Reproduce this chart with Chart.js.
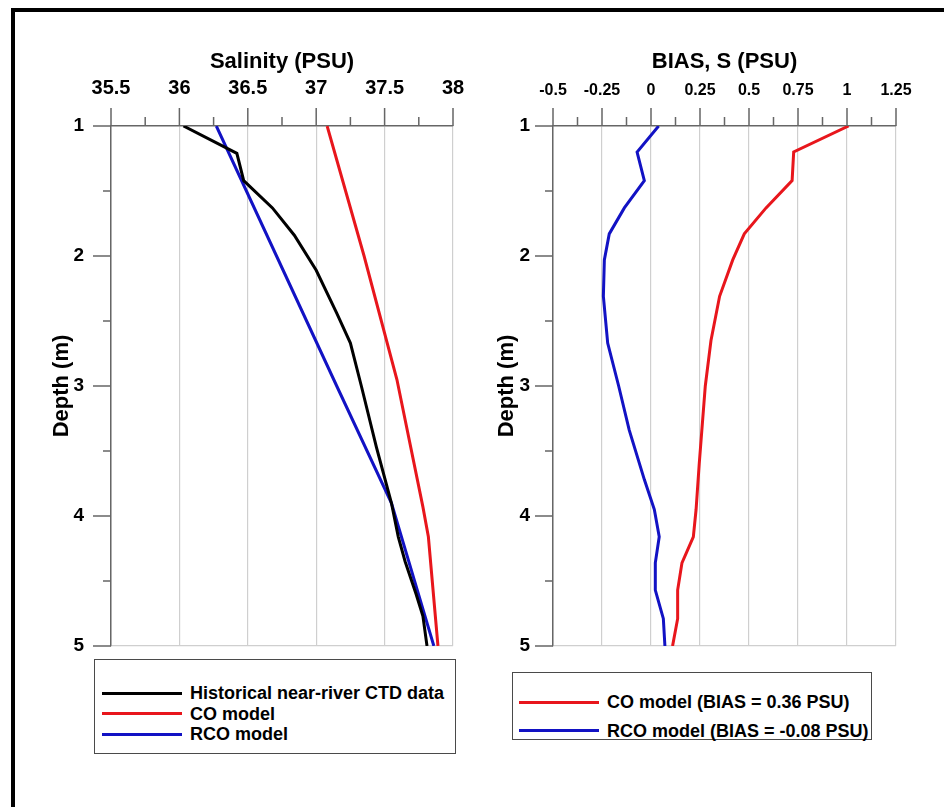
<!DOCTYPE html>
<html>
<head>
<meta charset="utf-8">
<script src="https://cdn.jsdelivr.net/npm/chart.js@4/dist/chart.umd.min.js"></script>
<style>
  html, body { margin: 0; padding: 0; background: #fff; overflow: hidden; }
  body { width: 944px; height: 807px; position: relative; font-family: 'Liberation Sans', Arial, sans-serif; }
  #frame { position: absolute; left: 11px; top: 8px; width: 1000px; height: 900px; border: 4px solid #000; }
  canvas { position: absolute; top: 0; }
  #salChart { left: 0; }
  #biasChart { left: 472px; }
  .legend { position: absolute; border: 1.5px solid #4a4a4a; background: #fff; }
  .legend .row { position: absolute; left: 0; right: 0; height: 0; }
  .legend .swatch { position: absolute; width: 80px; height: 3px; top: -1.5px; }
  .legend .txt { position: absolute; top: -11px; font-weight: bold; font-size: 18px; line-height: 22px; color: #000; white-space: nowrap; }
  #salLegend { left: 94px; top: 659px; width: 360px; height: 93px; }
  #biasLegend { left: 512px; top: 672px; width: 358px; height: 66px; }
</style>
</head>
<body>
<div id="frame"></div>
<canvas id="salChart" width="472" height="660"></canvas>
<canvas id="biasChart" width="472" height="660"></canvas>
<div id="salLegend" class="legend"></div>
<div id="biasLegend" class="legend"></div>
<script>
// ---- axis ticks ----
const salTicks = [35.5, 36, 36.5, 37, 37.5, 38];
const salMinor = [35.75, 36.25, 36.75, 37.25, 37.75];
const biasTicks = [-0.5, -0.25, 0, 0.25, 0.5, 0.75, 1, 1.25];
const biasMinor = [-0.375, -0.125, 0.125, 0.375, 0.625, 0.875, 1.125];
const depthTicks = [1, 2, 3, 4, 5];
const depthMinor = [1.5, 2.5, 3.5, 4.5];

// ---- salinity profiles (left) ----
const depthObs = [1, 1.21, 1.42, 1.63, 1.84, 2.11, 2.44, 2.67, 3.0, 3.47, 3.9, 4.16, 4.35, 4.6, 4.77, 5];
const salObs = [36.03, 36.42, 36.47, 36.68, 36.84, 37.0, 37.15, 37.25, 37.33, 37.44, 37.55, 37.6, 37.65, 37.73, 37.78, 37.81];
const depthCO = [1, 2, 2.95, 3.93, 4.16, 5];
const salCO = [37.08, 37.35, 37.59, 37.78, 37.82, 37.89];
const depthRCO = [1, 2, 3, 3.9, 5];
const salRCO = [36.27, 36.71, 37.15, 37.55, 37.86];

// ---- bias profiles (right) ----
const depthBiasCO = [1, 1.2, 1.42, 1.63, 1.83, 2.03, 2.31, 2.65, 3.0, 3.6, 3.95, 4.16, 4.36, 4.57, 4.79, 5];
const biasCO = [1.008, 0.728, 0.72, 0.587, 0.476, 0.417, 0.35, 0.306, 0.277, 0.246, 0.23, 0.216, 0.158, 0.136, 0.136, 0.11];
const depthBiasRCO = [1, 1.2, 1.42, 1.63, 1.83, 2.03, 2.31, 2.67, 3.0, 3.34, 3.72, 3.95, 4.16, 4.36, 4.57, 4.79, 5];
const biasRCO = [0.039, -0.071, -0.034, -0.136, -0.213, -0.238, -0.243, -0.221, -0.165, -0.111, -0.034, 0.017, 0.042, 0.022, 0.022, 0.063, 0.071];

// ---- labels ----
const salLabels = ['Historical near-river CTD data', 'CO model', 'RCO model'];
const biasLabels = ['CO model (BIAS = 0.36 PSU)', 'RCO model (BIAS = -0.08 PSU)'];

const BLACK = '#000000';
const RED = '#e8161c';
const BLUE = '#1212c4';
const AXIS = '#666666';

Chart.defaults.font.family = "'Liberation Sans', Arial, sans-serif";
Chart.defaults.color = '#000';

function toPoints(xs, ys) {
    return xs.map((x, i) => ({ x: x, y: ys[i] }));
}

function profile(label, values, depths, color) {
    return {
        label: label,
        data: toPoints(values, depths),
        showLine: true,
        borderColor: color,
        backgroundColor: color,
        borderWidth: 3,
        pointRadius: 0,
        tension: 0
    };
}

// fixed axis box size, no extra label overflow padding
function fixBox(prop, size) {
    return s => {
        s[prop] = size;
        s.paddingLeft = s.paddingRight = s.paddingTop = s.paddingBottom = 0;
    };
}

// draws long major / short minor tick marks outside the plot
const tickMarks = {
    id: 'tickMarks',
    afterDraw(chart, args, opts) {
        const ctx = chart.ctx;
        const xs = chart.scales.x, ys = chart.scales.y;
        ctx.save();
        ctx.strokeStyle = AXIS;
        ctx.lineWidth = 1.5;
        ctx.beginPath();
        opts.xMajor.forEach(v => { const p = xs.getPixelForValue(v); ctx.moveTo(p, xs.bottom); ctx.lineTo(p, xs.bottom - 18); });
        opts.xMinor.forEach(v => { const p = xs.getPixelForValue(v); ctx.moveTo(p, xs.bottom); ctx.lineTo(p, xs.bottom - 9); });
        opts.yMajor.forEach(v => { const p = ys.getPixelForValue(v); ctx.moveTo(ys.right - 18, p); ctx.lineTo(ys.right, p); });
        opts.yMinor.forEach(v => { const p = ys.getPixelForValue(v); ctx.moveTo(ys.right - 8, p); ctx.lineTo(ys.right, p); });
        ctx.stroke();
        ctx.restore();
    }
};

function makeProfileChart(id, cfg) {
    return new Chart(document.getElementById(id), {
        type: 'scatter',
        data: { datasets: cfg.datasets },
        options: {
            responsive: false,
            animation: false,
            layout: { padding: { left: cfg.padLeft, top: 0, right: cfg.padRight, bottom: 14 } },
            plugins: {
                legend: { display: false },
                tooltip: { enabled: false },
                tickMarks: { xMajor: cfg.xTicks, xMinor: cfg.xMinor, yMajor: depthTicks, yMinor: depthMinor }
            },
            scales: {
                x: {
                    type: 'linear',
                    position: 'top',
                    min: cfg.xTicks[0],
                    max: cfg.xTicks[cfg.xTicks.length - 1],
                    afterBuildTicks: s => { s.ticks = cfg.xTicks.map(v => ({ value: v })); },
                    afterFit: fixBox('height', 126),
                    ticks: {
                        padding: cfg.xTickPad,
                        maxRotation: 0,
                        autoSkip: false,
                        font: { size: cfg.xTickSize, weight: 'bold' },
                        callback: v => String(v)
                    },
                    grid: { color: '#cfcfcf', lineWidth: 1.2, drawTicks: false },
                    border: { display: true, color: AXIS, width: 1.5 },
                    title: {
                        display: true,
                        text: cfg.xTitle,
                        font: { size: 22, weight: 'bold' },
                        padding: { top: 49, bottom: 0 }
                    }
                },
                y: {
                    type: 'linear',
                    position: 'left',
                    reverse: true,
                    min: 1,
                    max: 5,
                    afterBuildTicks: s => { s.ticks = depthTicks.map(v => ({ value: v })); },
                    afterFit: fixBox('width', cfg.yWidth),
                    ticks: {
                        padding: cfg.yTickPad,
                        font: { size: 19, weight: 'bold' },
                        callback: v => String(v)
                    },
                    grid: {
                        drawTicks: false,
                        lineWidth: 1.2,
                        color: c => (c.tick && c.tick.value === 5) ? '#cfcfcf' : 'rgba(0,0,0,0)'
                    },
                    border: { display: true, color: AXIS, width: 1.5 },
                    title: {
                        display: true,
                        text: 'Depth (m)',
                        font: { size: 22, weight: 'bold' },
                        padding: { top: 0, bottom: 0 }
                    }
                }
            }
        },
        plugins: [tickMarks]
    });
}

// HTML legend built from the chart's datasets
function buildLegend(chart, boxId, firstY, gap, lineLeft) {
    const box = document.getElementById(boxId);
    chart.data.datasets.forEach((ds, i) => {
        const row = document.createElement('div');
        row.className = 'row';
        row.style.top = (firstY + i * gap) + 'px';
        const sw = document.createElement('div');
        sw.className = 'swatch';
        sw.style.left = lineLeft + 'px';
        sw.style.background = ds.borderColor;
        const tx = document.createElement('div');
        tx.className = 'txt';
        tx.style.left = (lineLeft + 88) + 'px';
        tx.textContent = ds.label;
        row.appendChild(sw);
        row.appendChild(tx);
        box.appendChild(row);
    });
}

const salChart = makeProfileChart('salChart', {
    datasets: [
        profile(salLabels[0], salObs, depthObs, BLACK),
        profile(salLabels[1], salCO, depthCO, RED),
        profile(salLabels[2], salRCO, depthRCO, BLUE)
    ],
    xTicks: salTicks, xMinor: salMinor, xTitle: 'Salinity (PSU)',
    xTickSize: 20, xTickPad: 26,
    padLeft: 49, padRight: 19, yWidth: 62, yTickPad: 27
});

const biasChart = makeProfileChart('biasChart', {
    datasets: [
        profile(biasLabels[0], biasCO, depthBiasCO, RED),
        profile(biasLabels[1], biasRCO, depthBiasRCO, BLUE)
    ],
    xTicks: biasTicks, xMinor: biasMinor, xTitle: 'BIAS, S (PSU)',
    xTickSize: 16, xTickPad: 26,
    padLeft: 22, padRight: 48, yWidth: 59, yTickPad: 23
});

buildLegend(salChart, 'salLegend', 33, 20.5, 7);
buildLegend(biasChart, 'biasLegend', 29, 28.7, 6);
</script>
</body>
</html>
